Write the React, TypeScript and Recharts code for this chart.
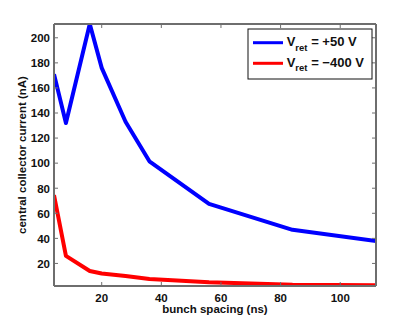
import React from 'react';
import { LineChart, Line, XAxis, YAxis } from 'recharts';

const spacing = [4, 8, 16, 20, 28, 36, 56, 84, 112];
const plus50 = [171, 132, 211, 176, 133, 101.5, 67.5, 46.8, 37.8];
const minus400 = [74.5, 26, 14, 12, 10, 7.5, 5, 3, 2.5];
const xTicks = [20, 40, 60, 80, 100];
const yTicks = [20, 40, 60, 80, 100, 120, 140, 160, 180, 200];
const legendLabels = ['= +50 V', '= \u2212400 V'];

const data = spacing.map((s, i) => ({ s, blue: plus50[i], red: minus400[i] }));

const FONT = '"Liberation Sans", Arial, Helvetica, sans-serif';
const AX = '#6e6e6e';
const FS = 11.5;

const XTick = (p: any) => (
  <g>
    <line x1={p.x} x2={p.x} y1={p.y} y2={p.y - 4} stroke={AX} strokeWidth={1} />
    <text x={p.x} y={p.y + 15.7} textAnchor="middle" fontFamily={FONT} fontWeight="bold" fontSize={FS} fill="#111">
      {p.payload.value}
    </text>
  </g>
);
const YTick = (p: any) => (
  <g>
    <line x1={p.x} x2={p.x + 4} y1={p.y} y2={p.y} stroke={AX} strokeWidth={1} />
    <text x={p.x - 4} y={p.y + 4.3} textAnchor="end" fontFamily={FONT} fontWeight="bold" fontSize={FS} fill="#111">
      {p.payload.value}
    </text>
  </g>
);
const TopTick = (p: any) => (
  <line x1={p.x} x2={p.x} y1={p.y} y2={p.y + 4} stroke={AX} strokeWidth={1} />
);
const RightTick = (p: any) => (
  <line x1={p.x} x2={p.x - 4} y1={p.y} y2={p.y} stroke={AX} strokeWidth={1} />
);

const XLabel = () => (
  <text x={215} y={313} textAnchor="middle" fontFamily={FONT} fontWeight="bold" fontSize={FS} fill="#111">
    bunch spacing (ns)
  </text>
);
const YLabel = () => (
  <text transform="translate(26,155) rotate(-90)" textAnchor="middle" fontFamily={FONT} fontWeight="bold" fontSize={FS} fill="#111">
    central collector current (nA)
  </text>
);

export default function App() {
  const domX: [number, number] = [4, 112];
  const domY: [number, number] = [2, 211];
  return (
    <div style={{ position: 'absolute', left: 0, top: 0, width: 415, height: 323, background: '#fff' }}>
      <LineChart width={415} height={323} data={data} margin={{ top: 23, right: 38, bottom: 36, left: 53 }}>
        <XAxis dataKey="s" type="number" domain={domX} ticks={xTicks} allowDataOverflow height={1}
          tickSize={0} tickMargin={0} tickLine={false} tick={XTick} axisLine={{ stroke: AX, strokeWidth: 2 }}
          label={<XLabel />} />
        <XAxis xAxisId="top" orientation="top" dataKey="s" type="number" domain={domX} ticks={xTicks} allowDataOverflow height={1}
          tickSize={0} tickMargin={0} tickLine={false} tick={TopTick} axisLine={{ stroke: AX, strokeWidth: 2 }} />
        <YAxis type="number" domain={domY} ticks={yTicks} allowDataOverflow width={1}
          tickSize={0} tickMargin={0} tickLine={false} tick={YTick} axisLine={{ stroke: AX, strokeWidth: 2 }}
          label={<YLabel />} />
        <YAxis yAxisId="right" orientation="right" type="number" domain={domY} ticks={yTicks} allowDataOverflow width={1}
          tickSize={0} tickMargin={0} tickLine={false} tick={RightTick} axisLine={{ stroke: AX, strokeWidth: 2 }} />
        <Line dataKey="blue" stroke="#0000ff" strokeWidth={4} dot={false} isAnimationActive={false} strokeLinejoin="round" />
        <Line dataKey="red" stroke="#ff0000" strokeWidth={4} dot={false} isAnimationActive={false} strokeLinejoin="round" />
        <Line xAxisId="top" yAxisId="right" dataKey="blue" stroke="none" dot={false} isAnimationActive={false} />
      </LineChart>
      <svg width={126} height={52} style={{ position: 'absolute', left: 247, top: 28 }}>
        <rect x={1} y={1} width={124} height={50} fill="#fff" stroke="#111" strokeWidth={1} />
        <line x1={6} x2={36} y1={14.7} y2={14.7} stroke="#0000ff" strokeWidth={3} />
        <line x1={6} x2={36} y1={35.3} y2={35.3} stroke="#ff0000" strokeWidth={3} />
        {legendLabels.map((t, i) => (
          <text key={i} x={39.7} y={18 + i * 20.7} fontFamily={FONT} fontWeight="bold" fontSize={13} fill="#111">
            V<tspan dy={4.7} fontSize={9.5}>ret</tspan><tspan dy={-4.7}>{' ' + t}</tspan>
          </text>
        ))}
      </svg>
    </div>
  );
}
